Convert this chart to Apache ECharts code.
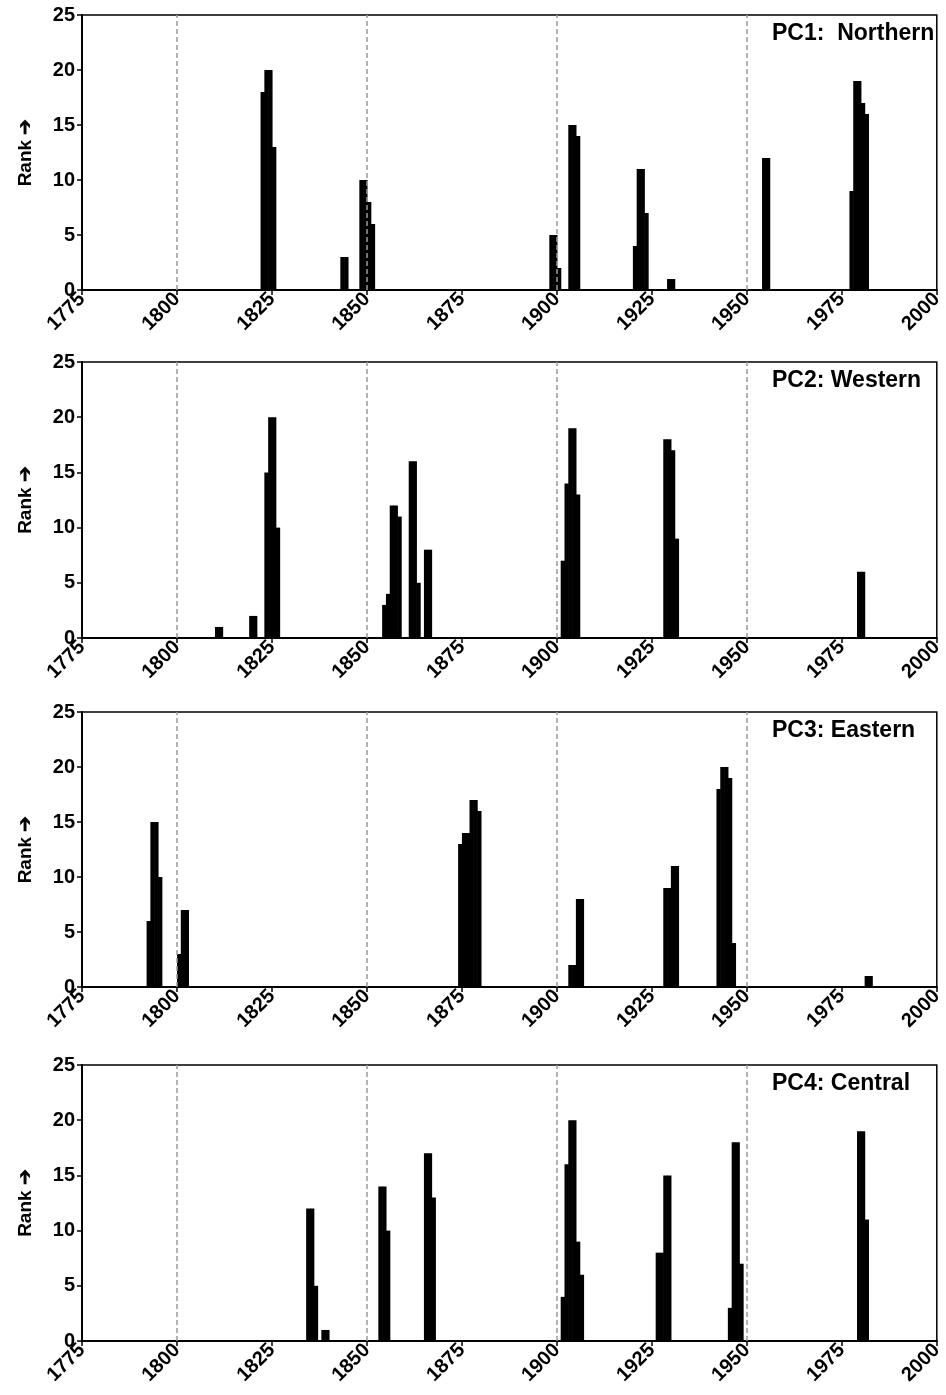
<!DOCTYPE html>
<html>
<head>
<meta charset="utf-8">
<title>PC rank by year</title>
<script src="https://cdn.jsdelivr.net/npm/echarts@6/dist/echarts.min.js"></script>
<style>
  html, body { margin: 0; padding: 0; background: #fff; }
  #chart { width: 946px; height: 1395px; }
</style>
</head>
<body>
<div id="chart"></div>
<script>
  // [year, rank] for each panel, one entry per year
  const pc1Data = [
    [1822, 18], [1823, 20], [1824, 20], [1825, 13],
    [1843, 3], [1844, 3],
    [1848, 10], [1849, 10], [1850, 8], [1851, 6],
    [1898, 5], [1899, 5], [1900, 2],
    [1903, 15], [1904, 15], [1905, 14],
    [1920, 4], [1921, 11], [1922, 11], [1923, 7],
    [1929, 1], [1930, 1],
    [1954, 12], [1955, 12],
    [1977, 9], [1978, 19], [1979, 19], [1980, 17], [1981, 16]
  ]
  const pc2Data = [
    [1810, 1], [1811, 1],
    [1819, 2], [1820, 2],
    [1823, 15], [1824, 20], [1825, 20], [1826, 10],
    [1854, 3], [1855, 4], [1856, 12], [1857, 12], [1858, 11],
    [1861, 16], [1862, 16], [1863, 5],
    [1865, 8], [1866, 8],
    [1901, 7], [1902, 14], [1903, 19], [1904, 19], [1905, 13],
    [1928, 18], [1929, 18], [1930, 17], [1931, 9],
    [1979, 6], [1980, 6]
  ]
  const pc3Data = [
    [1792, 6], [1793, 15], [1794, 15], [1795, 10],
    [1800, 3], [1801, 7], [1802, 7],
    [1874, 13], [1875, 14], [1876, 14], [1877, 17], [1878, 17], [1879, 16],
    [1903, 2], [1904, 2], [1905, 8], [1906, 8],
    [1928, 9], [1929, 9], [1930, 11], [1931, 11],
    [1942, 18], [1943, 20], [1944, 20], [1945, 19], [1946, 4],
    [1981, 1], [1982, 1]
  ]
  const pc4Data = [
    [1834, 12], [1835, 12], [1836, 5],
    [1838, 1], [1839, 1],
    [1853, 14], [1854, 14], [1855, 10],
    [1865, 17], [1866, 17], [1867, 13],
    [1901, 4], [1902, 16], [1903, 20], [1904, 20], [1905, 9], [1906, 6],
    [1926, 8], [1927, 8], [1928, 15], [1929, 15],
    [1945, 3], [1946, 18], [1947, 18], [1948, 7],
    [1979, 19], [1980, 19], [1981, 11]
  ]
  const panelTitles = ['PC1:  Northern', 'PC2: Western', 'PC3: Eastern', 'PC4: Central']
  const dashedYears = [1800, 1850, 1900, 1950]
  const yearMin = 1775
  const yearMax = 2000
  const yearStep = 25
  const rankMax = 25
  const rankStep = 5

  const allData = [pc1Data, pc2Data, pc3Data, pc4Data]
  // grid top / height for each panel
  const gridTops = [15, 362, 712, 1065]
  const gridHeights = [275, 276, 275, 276]
  const font = 'Liberation Sans, Arial, sans-serif'

  const chart = echarts.init(document.getElementById('chart'))

  const grids = []
  const xAxes = []
  const yAxes = []
  const titles = []
  const series = []

  allData.forEach(function (data, i) {
    grids.push({
      left: 82,
      right: 7,
      top: gridTops[i],
      height: gridHeights[i],
      show: true,
      borderColor: '#000',
      borderWidth: 1.5,
      backgroundColor: '#fff'
    })
    xAxes.push({
      type: 'value',
      gridIndex: i,
      min: yearMin,
      max: yearMax,
      interval: yearStep,
      axisLine: { show: true, onZero: false, lineStyle: { color: '#000', width: 2 } },
      axisTick: { show: true, length: 5, lineStyle: { color: '#000', width: 1.5 } },
      splitLine: { show: false },
      axisLabel: {
        rotate: 45,
        margin: 6,
        color: '#000',
        fontWeight: 'bold',
        fontSize: 20,
        fontFamily: font,
        formatter: function (v) { return String(v) }
      }
    })
    yAxes.push({
      type: 'value',
      gridIndex: i,
      min: 0,
      max: rankMax,
      interval: rankStep,
      name: 'Rank ➔',
      nameLocation: 'middle',
      nameRotate: 90,
      nameGap: 47,
      nameTextStyle: { color: '#000', fontWeight: 'bold', fontSize: 19, fontFamily: font },
      axisLine: { show: true, lineStyle: { color: '#000', width: 2 } },
      axisTick: { show: true, length: 5, lineStyle: { color: '#000', width: 1.5 } },
      splitLine: { show: false },
      axisLabel: {
        margin: 7,
        color: '#000',
        fontWeight: 'bold',
        fontSize: 20,
        fontFamily: font
      }
    })
    titles.push({
      text: panelTitles[i],
      left: 767,
      top: gridTops[i] + 2,
      textStyle: { color: '#000', fontWeight: 'bold', fontSize: 23, fontFamily: font }
    })
    series.push({
      type: 'custom',
      xAxisIndex: i,
      yAxisIndex: i,
      data: data,
      encode: { x: 0, y: 1 },
      clip: true,
      renderItem: function (params, api) {
        const top = api.coord([api.value(0), api.value(1)])
        const base = api.coord([api.value(0) + 1, 0])
        // small overlap so neighbouring years join without a seam
        return {
          type: 'rect',
          shape: { x: top[0], y: top[1], width: base[0] - top[0] + 0.6, height: base[1] - top[1] },
          style: { fill: '#000' }
        }
      },
      markLine: {
        silent: true,
        symbol: ['none', 'none'],
        label: { show: false },
        lineStyle: { color: '#9a9a9a', type: [5, 3], width: 1.5 },
        data: dashedYears.map(function (y) { return { xAxis: y } })
      }
    })
  })

  chart.setOption({
    animation: false,
    backgroundColor: '#fff',
    title: titles,
    grid: grids,
    xAxis: xAxes,
    yAxis: yAxes,
    series: series
  })
</script>
</body>
</html>
